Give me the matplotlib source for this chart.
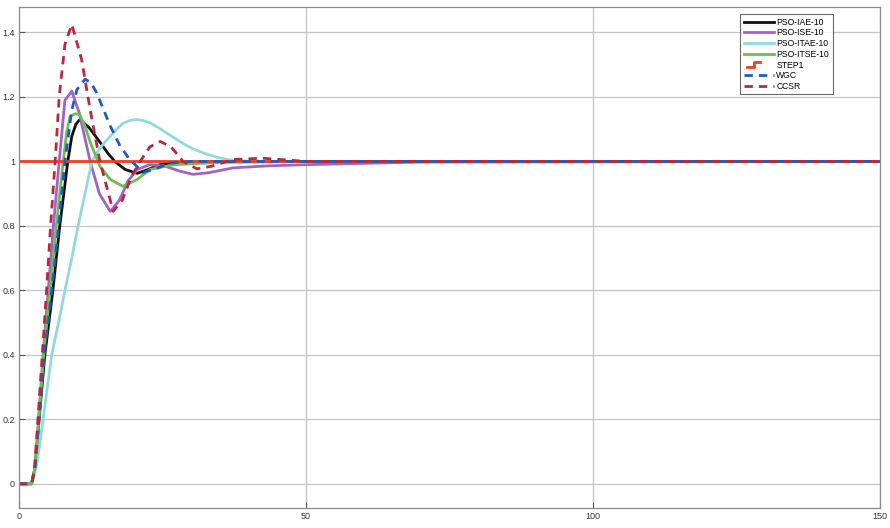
import matplotlib
matplotlib.use("Agg")
import matplotlib.pyplot as plt
from matplotlib.lines import Line2D
from matplotlib.legend_handler import HandlerBase

plt.rcParams['font.family'] = ['Liberation Sans', 'DejaVu Sans']

# step responses (time [s], output)
t_iae = [0, 2.2, 2.8, 3.5, 4.5, 5.9, 7.1, 8.5, 9.2, 9.9, 10.6, 12.2, 14.1, 15.5, 16.7, 18.5, 20.6, 22.5, 24.5, 27, 35, 150]
y_iae = [0, 0, 0.05, 0.2, 0.4, 0.6, 0.8, 1.0, 1.078, 1.115, 1.13, 1.105, 1.06, 1.025, 1.0, 0.975, 0.963, 0.975, 0.99, 0.996, 1.0, 1.0]

t_ise = [0, 2.2, 2.8, 3.4, 4.2, 5.1, 6.0, 7.0, 8.0, 9.2, 10.5, 12.4, 14.0, 15.9, 17.5, 19.0, 20.6, 22.8, 25.5, 28, 30.3, 33, 37.3, 43, 50, 60, 70, 150]
y_ise = [0, 0, 0.05, 0.2, 0.4, 0.6, 0.8, 1.0, 1.19, 1.218, 1.15, 1.0, 0.9, 0.845, 0.88, 0.94, 0.975, 0.99, 0.985, 0.97, 0.96, 0.965, 0.98, 0.986, 0.99, 0.994, 0.998, 1.0]

t_itae = [0, 2.2, 2.6, 3.2, 4.2, 5.7, 7.0, 8.0, 9.2, 10.3, 11.5, 12.7, 13.5, 14.3, 15.1, 15.9, 17.0, 18.1, 19.3, 20.5,
          21.6, 22.8, 24.3, 25.8, 27.5, 29.3, 31.0, 32.8, 34.5, 36.2, 38, 40, 50, 150]
y_itae = [0, 0, 0.02, 0.07, 0.2, 0.4, 0.51, 0.6, 0.7, 0.8, 0.9, 1.0, 1.025, 1.045, 1.063, 1.078, 1.1, 1.118, 1.127, 1.13,
          1.127, 1.12, 1.105, 1.087, 1.068, 1.048, 1.034, 1.022, 1.013, 1.006, 1.003, 1.001, 1.0, 1.0]

t_itse = [0, 2.2, 2.8, 3.45, 4.3, 5.4, 6.5, 7.7, 8.3, 8.9, 9.8, 10.6, 11.5, 12.4, 14.1, 15.9, 18.1, 20.6, 22.8, 27, 35, 50, 150]
y_itse = [0, 0, 0.05, 0.2, 0.4, 0.6, 0.8, 1.0, 1.09, 1.14, 1.148, 1.145, 1.11, 1.06, 0.985, 0.944, 0.923, 0.944, 0.975, 0.99, 0.997, 1.0, 1.0]

t_step = [0, 150]
y_step = [1, 1]

t_wgc = [0, 2.2, 2.8, 3.5, 4.4, 5.7, 6.9, 8.0, 9.2, 10.1, 11.5, 12.5, 13.5, 15.9, 17.6, 19.3, 21.6, 23.5, 26.3, 30, 150]
y_wgc = [0, 0, 0.05, 0.2, 0.4, 0.6, 0.8, 1.0, 1.16, 1.223, 1.255, 1.245, 1.214, 1.11, 1.048, 1.006, 0.966, 0.975, 0.995, 1.0, 1.0]

t_ccsr = [0, 2.2, 2.7, 3.3, 4.05, 4.8, 5.5, 6.3, 7.0, 8.0, 9.2, 10.9, 12.4, 14.1, 15.9, 16.4, 18.0, 19.5, 21.1, 22.8, 24.6, 26.5, 28.6, 31.0, 33.5, 37.3, 42.5, 50, 150]
y_ccsr = [0, 0, 0.05, 0.2, 0.4, 0.6, 0.8, 1.0, 1.2, 1.363, 1.425, 1.317, 1.16, 1.0, 0.88, 0.845, 0.88, 0.95, 1.0, 1.045, 1.062, 1.045, 1.0, 0.977, 0.985, 1.006, 1.01, 1.0, 1.0]

x_ticks = [0, 50, 100, 150]
y_ticks = [0, 0.2, 0.4, 0.6, 0.8, 1.0, 1.2, 1.4]
y_ticklabels = ['0', '0.2', '0.4', '0.6', '0.8', '1', '1.2', '1.4']


class HandlerStep(HandlerBase):
    # small step icon like the scope legend
    def create_artists(self, legend, orig_handle, xdescent, ydescent,
                       width, height, fontsize, trans):
        yc = height / 2 - ydescent
        lo, hi = yc - 0.35 * height, yc + 0.35 * height
        x0 = -xdescent
        xs = [x0 + 0.12 * width, x0 + 0.33 * width, x0 + 0.33 * width, x0 + 0.55 * width]
        ys = [lo, lo, hi, hi]
        ln = Line2D(xs, ys, color=orig_handle.get_color(), lw=orig_handle.get_linewidth())
        ln.set_transform(trans)
        return [ln]


fig = plt.figure(figsize=(8.9, 5.28), dpi=100)
ax = fig.add_axes([19 / 890, 20 / 528, 861 / 890, 501.3 / 528])

lw = 2.0
ax.plot(t_iae, y_iae, color='#111111', lw=lw, label='PSO-IAE-10')
ax.plot(t_ise, y_ise, color='#a064c8', lw=lw, label='PSO-ISE-10')
ax.plot(t_itae, y_itae, color='#93d9dc', lw=lw, label='PSO-ITAE-10')
ax.plot(t_itse, y_itse, color='#6cc04a', lw=lw, label='PSO-ITSE-10')
step_line, = ax.plot(t_step, y_step, color='#f23b22', lw=lw, label='STEP1')
ax.plot(t_wgc, y_wgc, color='#1f5bbf', lw=lw, ls=(0, (3, 2.2)), label='WGC')
ax.plot(t_ccsr, y_ccsr, color='#b52a3e', lw=lw, ls=(0, (3, 2.2)), label='CCSR')

ax.set_xlim(0, 150)
ax.set_ylim(-0.075, 1.48)
ax.set_xticks(x_ticks)
ax.set_xticklabels([str(v) for v in x_ticks])
ax.set_yticks(y_ticks)
ax.set_yticklabels(y_ticklabels)
ax.tick_params(direction='in', length=4, width=0.8, color='#555555',
               labelsize=6.5, labelcolor='#333333', pad=3)
ax.grid(True, color='#c4c4c4', lw=0.9)
ax.set_axisbelow(True)
for s in ax.spines.values():
    s.set_color('#8a8a8a')
    s.set_linewidth(0.9)

leg = ax.legend(loc='upper right', bbox_to_anchor=(0.945, 0.985), borderaxespad=0,
                fontsize=6.2, frameon=True, fancybox=False, handlelength=3.5,
                handletextpad=0.3, labelspacing=0.2, borderpad=0.4,
                handler_map={step_line: HandlerStep()})
leg.get_frame().set_edgecolor('#444444')
leg.get_frame().set_linewidth(0.8)

fig.savefig('out.png', dpi=100)
